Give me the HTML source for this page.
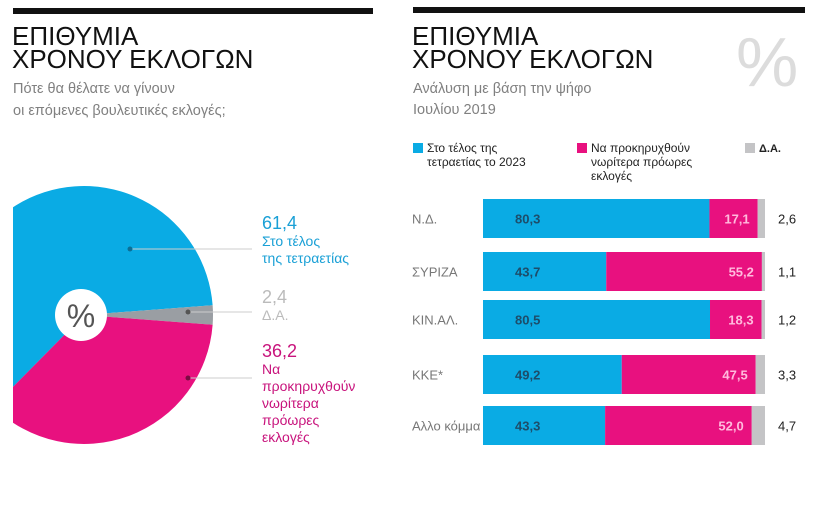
<!DOCTYPE html>
<html><head><meta charset="utf-8"><style>
body{margin:0;background:#fff;width:823px;height:511px;overflow:hidden;font-family:"Liberation Sans","Noto Sans CJK SC",sans-serif}
</style></head><body>
<svg width="823" height="511" xmlns="http://www.w3.org/2000/svg" font-family="Liberation Sans, Noto Sans CJK SC, sans-serif">
<rect x="13" y="8" width="360" height="6" fill="#111"/>
<rect x="413" y="7" width="392" height="6" fill="#111"/>
<g font-size="26" fill="#111">
<text x="12" y="45">ΕΠΙΘΥΜΙΑ</text><text x="12" y="68">ΧΡΟΝΟΥ ΕΚΛΟΓΩΝ</text></g>
<g font-size="14.5" fill="#808080">
<text x="13" y="93">Πότε θα θέλατε να γίνουν</text><text x="13" y="115">οι επόμενες βουλευτικές εκλογές;</text></g>
<g font-size="26" fill="#111">
<text x="412" y="45">ΕΠΙΘΥΜΙΑ</text><text x="412" y="68">ΧΡΟΝΟΥ ΕΚΛΟΓΩΝ</text></g>
<g font-size="14.5" fill="#808080">
<text x="413" y="93">Ανάλυση με βάση την ψήφο</text><text x="413" y="114">Ιουλίου 2019</text></g>
<text x="736" y="86" font-size="70" fill="#dcdcdc">%</text>
<g id="pie"></g>
<g id="legend" font-size="12" fill="#222">
<rect x="413" y="143" width="10" height="10" fill="#0aabe4"/>
<text x="427" y="152"><tspan x="427">Στο τέλος της</tspan><tspan x="427" dy="14">τετραετίας το 2023</tspan></text>
<rect x="577" y="143" width="10" height="10" fill="#e8117f"/>
<text x="591" y="152"><tspan x="591">Να προκηρυχθούν</tspan><tspan x="591" dy="14">νωρίτερα πρόωρες</tspan><tspan x="591" dy="14">εκλογές</tspan></text>
<rect x="745" y="143" width="10" height="10" fill="#c4c4c6"/>
<text x="759" y="152" font-weight="bold" font-size="11">Δ.Α.</text>
</g>
<g id="bars"></g>
</svg>
<script>
const pieLabels=["Στο τέλος της τετραετίας","Δ.Α.","Να προκηρυχθούν νωρίτερα πρόωρες εκλογές"];
const pieValues=[61.4,2.4,36.2];
const parties=["Ν.Δ.","ΣΥΡΙΖΑ","ΚΙΝ.ΑΛ.","ΚΚΕ*","Αλλο κόμμα"];
const endVals=[80.3,43.7,80.5,49.2,43.3];
const earlyVals=[17.1,55.2,18.3,47.5,52.0];
const naVals=[2.6,1.1,1.2,3.3,4.7];
const NS="http://www.w3.org/2000/svg";
function mk(t,a,p){const e=document.createElementNS(NS,t);for(const k in a)e.setAttribute(k,a[k]);p.appendChild(e);return e;}
function fmt(v){return v.toFixed(1).replace('.',',');}
const pie=document.getElementById('pie');
const cx=84,cy=315,r=129;
const clip=mk('clipPath',{id:'pc'},pie);mk('rect',{x:13,y:0,width:400,height:511},clip);
const pg=mk('g',{'clip-path':'url(#pc)'},pie);
const tot=pieValues.reduce((a,b)=>a+b,0);
const colors=["#0aabe4","#9a9ea3","#e8117f"];
const grayDeg=pieValues[1]/tot*360, pinkDeg=pieValues[2]/tot*360, blueDeg=pieValues[0]/tot*360;
const starts=[-grayDeg/2-blueDeg,-grayDeg/2,grayDeg/2];
const sweeps=[blueDeg,grayDeg,pinkDeg];
const names=['slice-end-of-term','slice-na','slice-early-elections'];
function pt(deg,rr){const a=deg*Math.PI/180;return[cx+rr*Math.cos(a),cy+rr*Math.sin(a)];}
for(let i=0;i<3;i++){
 const[s1,s2]=pt(starts[i],r),[e1,e2]=pt(starts[i]+sweeps[i],r);
 const p=mk('path',{d:`M${cx},${cy}L${s1},${s2}A${r},${r} 0 ${sweeps[i]>180?1:0} 1 ${e1},${e2}Z`,fill:colors[i]},pg);
 
 
}
const hole=mk('circle',{cx:81,cy:315,r:26,fill:'#fff'},pie);


const pct=mk('text',{x:81,y:327,'font-size':32,fill:'#555','text-anchor':'middle'},pie);pct.textContent='%';


const leaders=[[130,249],[188,312],[188,378]];
const lcol=["#0b6f96","#555","#7a0b43"];
const tcol=["#1aa0d6","#bbb","#c8137c"];
const texts=[["Στο τέλος","της τετραετίας"],["Δ.Α."],["Να","προκηρυχθούν","νωρίτερα","πρόωρες","εκλογές"]];
const ty=[229,303,357];
for(let i=0;i<3;i++){
 const[lx,ly]=leaders[i];
 mk('line',{x1:lx,y1:ly,x2:252,y2:ly,stroke:'#ccc','stroke-width':1},pie);
 mk('circle',{cx:lx,cy:ly,r:2.5,fill:lcol[i]},pie);
 const v=mk('text',{x:262,y:ty[i],'font-size':18,fill:tcol[i]},pie);v.textContent=fmt(pieValues[i]);
 
 
 const t=mk('text',{x:262,y:ty[i]+17,'font-size':14,fill:tcol[i]},pie);
 
 
 texts[i].forEach((s,j)=>{const ts=mk('tspan',{x:262,dy:j?17:0},t);ts.textContent=s;});
}
const bars=document.getElementById('bars');
const x0=483,W=282;
const xs=v=>v/100*W;
const rowTop=[199,252,300,355,406];
parties.forEach((p,i)=>{
 const y=rowTop[i],h=39,cyb=y+h/2+5;
 const lab=mk('text',{x:412,y:cyb,'font-size':13,fill:'#777'},bars);lab.textContent=p;
 
 
 let x=x0;
 const segs=[[endVals[i],'#0aabe4'],[earlyVals[i],'#e8117f'],[naVals[i],'#c4c4c6']];
 const sn=['bar-end-of-term','bar-early-elections','bar-na'];
 segs.forEach(([v,c],k)=>{
  const rc=mk('rect',{x:x,y:y,width:xs(v),height:h,fill:c},bars);
  
  
  x+=xs(v);
 });
 const a=mk('text',{x:x0+32,y:cyb,'font-size':13,fill:'#1d4d6a','font-weight':'600'},bars);a.textContent=fmt(endVals[i]);
 
 
 const b=mk('text',{x:x0+xs(endVals[i]+earlyVals[i])-8,y:cyb,'font-size':13,fill:'#fbd','text-anchor':'end','font-weight':'600'},bars);b.textContent=fmt(earlyVals[i]);
 
 
 const c=mk('text',{x:778,y:cyb,'font-size':13,fill:'#222'},bars);c.textContent=fmt(naVals[i]);
 
 
});
</script>
</body></html>
